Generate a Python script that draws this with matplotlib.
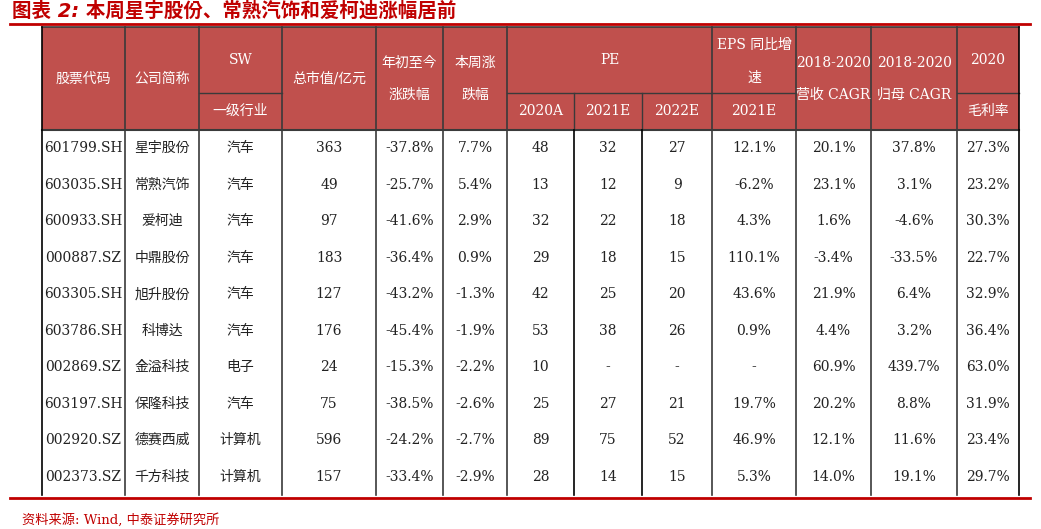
import matplotlib.pyplot as plt
from matplotlib.patches import Rectangle

plt.rcParams['font.family'] = ['DejaVu Serif', 'Noto Sans CJK JP', 'Noto Sans CJK SC']

title = '图表 2: 本周星宇股份、常熟汽饰和爱柯迪涨幅居前'
source = '资料来源: Wind, 中泰证券研究所'

codes = ['601799.SH', '603035.SH', '600933.SH', '000887.SZ', '603305.SH',
         '603786.SH', '002869.SZ', '603197.SH', '002920.SZ', '002373.SZ']
names = ['星宇股份', '常熟汽饰', '爱柯迪', '中鼎股份', '旭升股份',
         '科博达', '金溢科技', '保隆科技', '德赛西威', '千方科技']
industry = ['汽车', '汽车', '汽车', '汽车', '汽车', '汽车', '电子', '汽车', '计算机', '计算机']
mktcap = ['363', '49', '97', '183', '127', '176', '24', '75', '596', '157']
ytd = ['-37.8%', '-25.7%', '-41.6%', '-36.4%', '-43.2%', '-45.4%', '-15.3%', '-38.5%', '-24.2%', '-33.4%']
week = ['7.7%', '5.4%', '2.9%', '0.9%', '-1.3%', '-1.9%', '-2.2%', '-2.6%', '-2.7%', '-2.9%']
pe20 = ['48', '13', '32', '29', '42', '53', '10', '25', '89', '28']
pe21 = ['32', '12', '22', '18', '25', '38', '-', '27', '75', '14']
pe22 = ['27', '9', '18', '15', '20', '26', '-', '21', '52', '15']
eps21 = ['12.1%', '-6.2%', '4.3%', '110.1%', '43.6%', '0.9%', '-', '19.7%', '46.9%', '5.3%']
rev_cagr = ['20.1%', '23.1%', '1.6%', '-3.4%', '21.9%', '4.4%', '60.9%', '20.2%', '12.1%', '14.0%']
np_cagr = ['37.8%', '3.1%', '-4.6%', '-33.5%', '6.4%', '3.2%', '439.7%', '8.8%', '11.6%', '19.1%']
gm20 = ['27.3%', '23.2%', '30.3%', '22.7%', '32.9%', '36.4%', '63.0%', '31.9%', '23.4%', '29.7%']

columns = [codes, names, industry, mktcap, ytd, week, pe20, pe21, pe22,
           eps21, rev_cagr, np_cagr, gm20]

xs = [42, 125, 199, 282, 376, 443, 507, 574, 642, 712, 796, 871, 957, 1019]
htop, hmid, hbot = 27, 93, 130
row_h = (495 - hbot) / 10
red = '#C0504D'
dark = '#3a3a3a'

fig = plt.figure(figsize=(10.41, 5.29), dpi=100)
ax = fig.add_axes([0, 0, 1, 1])
ax.set_xlim(0, 1041)
ax.set_ylim(529, 0)
ax.axis('off')

# title and rules
ax.text(12, 11, title, color='#C00000', fontsize=14, fontweight='bold',
        style='italic', va='center', ha='left',
        fontfamily=['DejaVu Sans', 'Noto Sans CJK JP', 'Noto Sans CJK SC'])
ax.plot([10, 1030], [24, 24], color='#C00000', lw=2)
ax.plot([10, 1030], [498, 498], color='#C00000', lw=2)
ax.text(22, 520, source, color='#C00000', fontsize=9.5, va='center', ha='left')

# header background
ax.add_patch(Rectangle((xs[0], htop), xs[-1] - xs[0], hbot - htop, color=red, lw=0))

fs = 10
def hdr(i0, i1, y, s):
    ax.text((xs[i0] + xs[i1]) / 2, y, s, color='white', fontsize=fs, ha='center', va='center')

ymid = (htop + hbot) / 2
hdr(0, 1, ymid, '股票代码')
hdr(1, 2, ymid, '公司简称')
hdr(2, 3, 60, 'SW')
hdr(2, 3, 111, '一级行业')
hdr(3, 4, ymid, '总市值/亿元')
hdr(4, 5, 63, '年初至今')
hdr(4, 5, 95, '涨跌幅')
hdr(5, 6, 63, '本周涨')
hdr(5, 6, 95, '跌幅')
hdr(6, 9, 60, 'PE')
hdr(6, 7, 111, '2020A')
hdr(7, 8, 111, '2021E')
hdr(8, 9, 111, '2022E')
hdr(9, 10, 45, 'EPS 同比增')
hdr(9, 10, 78, '速')
hdr(9, 10, 111, '2021E')
hdr(10, 11, 63, '2018-2020')
hdr(10, 11, 95, '营收 CAGR')
hdr(11, 12, 63, '2018-2020')
hdr(11, 12, 95, '归母 CAGR')
hdr(12, 13, 60, '2020')
hdr(12, 13, 111, '毛利率')

# header grid
ax.plot([xs[0], xs[-1]], [htop, htop], color=dark, lw=1.2)
ax.plot([xs[0], xs[-1]], [hbot, hbot], color=dark, lw=1.5)
for i in [2, 6, 9, 12]:
    x1 = xs[i + 3] if i == 6 else xs[i + 1]
    ax.plot([xs[i], x1], [hmid, hmid], color=dark, lw=1)
for i in [7, 8]:
    ax.plot([xs[i], xs[i]], [hmid, hbot], color=dark, lw=1)

# vertical lines across header and body
for i, x in enumerate(xs):
    if i in (7, 8):
        ax.plot([x, x], [hbot, 495], color='black', lw=1.2)
    else:
        ax.plot([x, x], [htop, 495], color='black' if i in (0, 13) else dark, lw=1.2)

# body
for r in range(10):
    y = hbot + row_h * (r + 0.5)
    for c, col in enumerate(columns):
        ax.text((xs[c] + xs[c + 1]) / 2, y, col[r], color='#222222', fontsize=fs,
                ha='center', va='center')

fig.savefig('out.png', dpi=100)
